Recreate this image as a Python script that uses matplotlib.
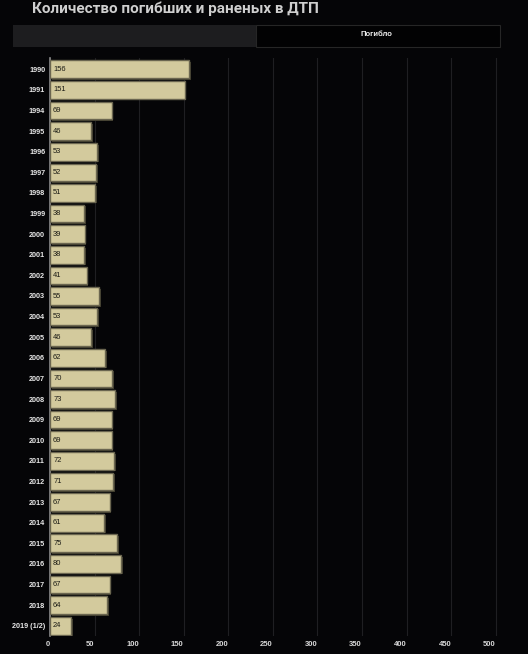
import numpy as np
import matplotlib.pyplot as plt
import matplotlib.patheffects as pe
from matplotlib.patches import Rectangle
from matplotlib.transforms import ScaledTranslation

years = ["1990", "1991", "1994", "1995", "1996", "1997", "1998", "1999", "2000",
         "2001", "2002", "2003", "2004", "2005", "2006", "2007", "2008", "2009",
         "2010", "2011", "2012", "2013", "2014", "2015", "2016", "2017", "2018",
         "2019 (1/2)"]
killed = [156, 151, 69, 46, 53, 52, 51, 38, 39, 38, 41, 55, 53, 46, 62, 70, 73,
          69, 69, 72, 71, 67, 61, 75, 80, 67, 64, 24]
xticks = [0, 50, 100, 150, 200, 250, 300, 350, 400, 450, 500]

W, H = 528, 654
bg = "#050507"
small = ["Liberation Sans", "DejaVu Sans"]
fig = plt.figure(figsize=(W / 100, H / 100), dpi=100, facecolor=bg)

# title
fig.text(32 / W, 1 - 9 / H, "Количество погибших и раненых в ДТП", color="#cfcfcf",
         fontsize=11, fontweight="bold", family=["Roboto", "DejaVu Sans"],
         ha="left", va="center")

# tab bar
fig.patches.append(Rectangle((13 / W, 1 - 47 / H), 243 / W, 22 / H, transform=fig.transFigure,
                             facecolor="#1d1d1f", edgecolor="none"))
fig.patches.append(Rectangle((256 / W, 1 - 47 / H), 244 / W, 22 / H, transform=fig.transFigure,
                             facecolor="#020203", edgecolor="#262626", linewidth=0.8))
fig.text(376 / W, 1 - 35 / H, "Погибло", color="#f0f0f0", fontsize=5.5, family=small,
         fontweight="bold", ha="center", va="center")

ax = fig.add_axes([50 / W, 1 - 636 / H, 452 / W, (636 - 58) / H])
ax.set_facecolor(bg)
y = np.arange(len(years))
bars = ax.barh(y, killed, height=0.86, color="#d3ca9d", edgecolor="#6b6650",
               linewidth=1.0, zorder=3)
for b in bars:
    b.set_path_effects([pe.SimplePatchShadow(offset=(1.2, -1.2), shadow_rgbFace="#3e3b2c",
                                             alpha=1.0), pe.Normal()])
for yi, v in zip(y, killed):
    ax.text(3.5, yi, str(v), color="#1a1a14", fontsize=5.4, family=small,
            ha="left", va="center", zorder=4)

ax.set_ylim(len(years) - 0.5, -0.55)
ax.set_xlim(0, 507)
ax.set_yticks(y)
ax.set_yticklabels(years, color="#e8e8e8", fontsize=5.2, fontweight="bold", family=small)
ax.set_xticks(xticks)
ax.set_xticklabels([str(t) for t in xticks], color="#d8d8d8", fontsize=5.5,
                   fontweight="bold", family=small)
shift = ScaledTranslation(-4 / 100, 0, fig.dpi_scale_trans)
for lab in ax.get_xticklabels():
    lab.set_horizontalalignment("right")
    lab.set_transform(lab.get_transform() + shift)
ax.tick_params(length=0, pad=3.5)
ax.grid(axis="x", color="#1f1f22", linewidth=0.8, zorder=0)
for s in ["top", "right", "bottom"]:
    ax.spines[s].set_visible(False)
ax.spines["left"].set_color("#8a8a8a")
ax.spines["left"].set_linewidth(1.2)

fig.savefig("out.png", dpi=100, facecolor=bg)
